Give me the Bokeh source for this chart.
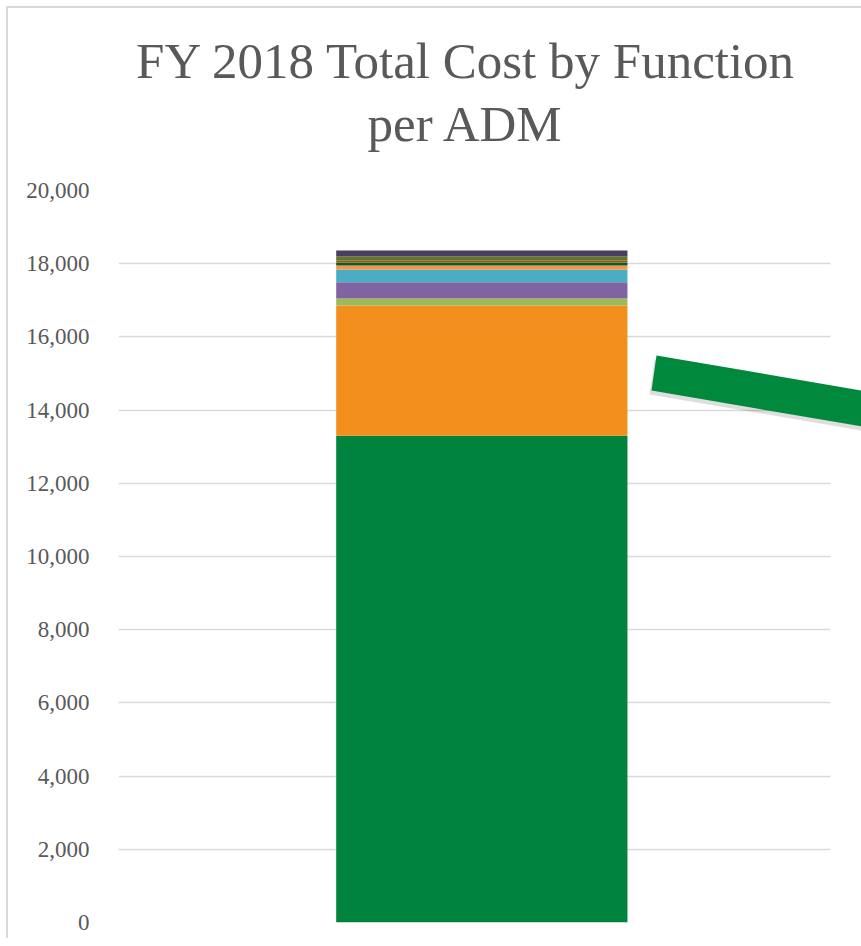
from bokeh.plotting import figure
from bokeh.layouts import column
from bokeh.models import FixedTicker, NumeralTickFormatter, PolyAnnotation, ColumnDataSource, Grid, Range1d
from bokeh.core.properties import value
from bokeh.transform import dodge
from bokeh.embed import file_html
from bokeh.resources import INLINE

# ---- data ----
categories = ["FY 2018"]
functions = ["Instruction", "Support 1", "Support 2", "Support 3", "Support 4",
             "Support 5", "Support 6", "Support 7", "Support 8", "Support 9"]
values = [13300, 3560, 190, 445, 345, 110, 80, 65, 110, 155]
colors = ["#00843D", "#F3901D", "#9BBB59", "#8064A2", "#4BACC6",
          "#F79646", "#0E5B2A", "#9C5D12", "#5F7530", "#4B3D60"]
y_ticks = list(range(0, 20001, 2000))
title_lines = ["FY 2018 Total Cost by Function", "per ADM"]

W = 853
TITLE_H = 168

# ---- title strip (its own small figure, pixel coordinates) ----
t = figure(width=W, height=TITLE_H, x_range=Range1d(0, W), y_range=Range1d(TITLE_H, 0),
           x_axis_location=None, y_axis_location=None,
           output_backend="svg", toolbar_location=None,
           min_border_left=0, min_border_right=0, min_border_top=0, min_border_bottom=0)
t.grid.visible = False
t.outline_line_color = None
t.text(x=[399.5, 399], y=[52, 115], text=title_lines,
       text_align="center", text_baseline="alphabetic",
       text_font=value("Liberation Serif"), text_font_size="51px", text_color="#595959")

# ---- chart ----
data = {"cat": categories}
for f, v in zip(functions, values):
    data[f] = [v]
source = ColumnDataSource(data)

p = figure(x_range=categories, y_range=(0, 20000), width=W, height=930 - TITLE_H,
           output_backend="svg", toolbar_location=None,
           min_border_left=110, min_border_right=0, min_border_bottom=16, min_border_top=182 - TITLE_H)

p.x_range.range_padding = 0
p.vbar_stack(functions, x=dodge("cat", -0.011, range=p.x_range), width=0.392,
             color=colors, source=source, line_width=0)

p.xaxis.visible = False
p.xgrid.grid_line_color = None
p.ygrid.grid_line_color = "#d9d9d9"
p.ygrid.grid_line_width = 1.5
if "cross_bounds" in Grid.properties():
    p.ygrid.cross_bounds = (0, 0.958)
p.yaxis.ticker = FixedTicker(ticks=y_ticks)
p.yaxis.formatter = NumeralTickFormatter(format="0,0")
p.yaxis.axis_line_color = None
p.yaxis.major_tick_line_color = None
p.yaxis.minor_tick_line_color = None
p.yaxis.major_label_text_font = "Liberation Serif"
p.yaxis.major_label_text_font_size = "23px"
p.yaxis.major_label_text_color = "#595959"
p.yaxis.major_label_standoff = 23
p.outline_line_color = None

# decorative arrow shape (partially off-canvas)
oy = 182 - TITLE_H
shadow = PolyAnnotation(xs=[646, 900, 900, 641], ys=[351 - 182 + oy, 394 - 182 + oy, 430 - 182 + oy, 386 - 182 + oy],
                        xs_units="canvas", ys_units="canvas",
                        fill_color="#000000", fill_alpha=0.13, line_color=None)
arrow = PolyAnnotation(xs=[648, 900, 900, 643], ys=[347 - 182 + oy, 390 - 182 + oy, 426 - 182 + oy, 382 - 182 + oy],
                       xs_units="canvas", ys_units="canvas",
                       fill_color="#00893D", fill_alpha=1.0, line_color=None)
p.add_layout(shadow)
p.add_layout(arrow)

layout = column(t, p, spacing=0)
layout.styles = {"border-left": "2px solid #d9d9d9", "border-top": "2px solid #d9d9d9",
                 "margin-left": "6px", "margin-top": "6px"}

open("out.html", "w").write(file_html(layout, INLINE))
